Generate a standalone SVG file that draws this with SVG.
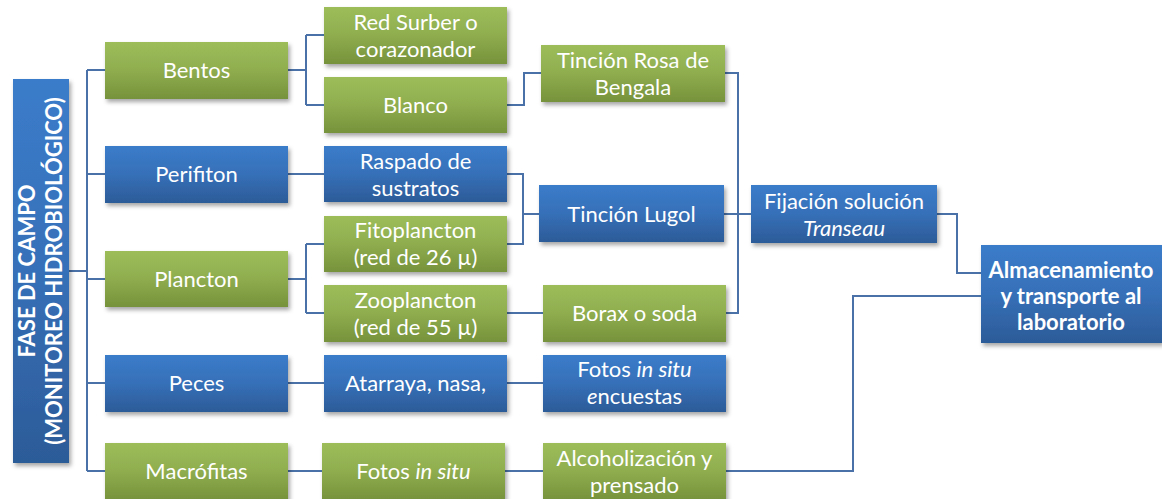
<svg xmlns="http://www.w3.org/2000/svg" width="1162" height="499" viewBox="0 0 1162 499">
<style>
text{font-family:"Lato","Liberation Sans",sans-serif;font-size:22px;fill:#fff;text-anchor:middle}
.b{font-weight:bold}
.i{font-style:italic}
.g{fill:url(#gg);filter:url(#sh)}
.u{fill:url(#bg);filter:url(#sh)}
.c{fill:none;stroke:#4a72a8;stroke-width:2}
</style>
<defs>
<linearGradient id="gg" x1="0" y1="0" x2="0" y2="1"><stop offset="0" stop-color="#9dbd5a"/><stop offset="0.5" stop-color="#8fad4e"/><stop offset="1" stop-color="#76923b"/></linearGradient>
<linearGradient id="bg" x1="0" y1="0" x2="0" y2="1"><stop offset="0" stop-color="#3b7cca"/><stop offset="0.5" stop-color="#3670b8"/><stop offset="1" stop-color="#2c5b98"/></linearGradient>
<filter id="sh" x="-10%" y="-10%" width="125%" height="140%"><feDropShadow dx="2" dy="3" stdDeviation="2" flood-color="#000" flood-opacity="0.35"/></filter>
</defs>
<g id="connectors">
<path class="c" d="M69 271H87M87 70V471M87 70H105M87 174H105M87 279H105M87 383H105M87 471H105"/>
<path class="c" d="M288 70H306M306 35V105M306 35H324M306 105H324"/>
<path class="c" d="M288 174H324"/>
<path class="c" d="M288 279H306M306 244V313M306 244H324M306 313H324"/>
<path class="c" d="M288 383H324"/>
<path class="c" d="M288 471H322"/>
<path class="c" d="M507 105H524V73H541"/>
<path class="c" d="M507 174H523V244H507M523 214H539"/>
<path class="c" d="M507 313H543"/>
<path class="c" d="M507 383H543"/>
<path class="c" d="M505 471H543"/>
<path class="c" d="M725 73H738V313H726M724 214H751"/>
<path class="c" d="M937 214H957V273H981"/>
<path class="c" d="M726 471H853V296H981"/>
</g>
<g id="fase"><rect class="u" x="13" y="79" width="56" height="384"/>
<text class="b" transform="translate(41 271) rotate(-90)"><tspan x="0" y="-6">FASE DE CAMPO</tspan><tspan x="0" y="21">(MONITOREO HIDROBIOLÓGICO)</tspan></text></g>
<g id="bentos"><rect class="g" x="105" y="42" width="183" height="57"/><text x="196.5" y="78">Bentos</text></g>
<g id="perifiton"><rect class="u" x="105" y="146" width="183" height="57"/><text x="196.5" y="182">Perifiton</text></g>
<g id="plancton"><rect class="g" x="105" y="251" width="183" height="56"/><text x="196.5" y="287">Plancton</text></g>
<g id="peces"><rect class="u" x="105" y="355" width="183" height="57"/><text x="196.5" y="391">Peces</text></g>
<g id="macrofitas"><rect class="g" x="105" y="443" width="183" height="57"/><text x="196.5" y="479">Macrófitas</text></g>
<g id="surber"><rect class="g" x="324" y="7" width="183" height="57"/><text x="415.5" y="30">Red Surber o</text><text x="415.5" y="57">corazonador</text></g>
<g id="blanco"><rect class="g" x="324" y="77" width="183" height="56"/><text x="415.5" y="113">Blanco</text></g>
<g id="raspado"><rect class="u" x="324" y="146" width="183" height="56"/><text x="415.5" y="169">Raspado de</text><text x="415.5" y="196">sustratos</text></g>
<g id="fito"><rect class="g" x="324" y="216" width="183" height="56"/><text x="415.5" y="238">Fitoplancton</text><text x="415.5" y="265">(red de 26 µ)</text></g>
<g id="zoo"><rect class="g" x="324" y="285" width="183" height="57"/><text x="415.5" y="308">Zooplancton</text><text x="415.5" y="335">(red de 55 µ)</text></g>
<g id="atarraya"><rect class="u" x="324" y="355" width="183" height="57"/><text x="415.5" y="391">Atarraya, nasa,</text></g>
<g id="fotos1"><rect class="g" x="322" y="443" width="183" height="57"/><text x="413.5" y="479">Fotos <tspan class="i">in situ</tspan></text></g>
<g id="rosa"><rect class="g" x="541" y="45" width="184" height="57"/><text x="633" y="68">Tinción Rosa de</text><text x="633" y="95">Bengala</text></g>
<g id="lugol"><rect class="u" x="539" y="185" width="185" height="57"/><text x="631.5" y="222">Tinción Lugol</text></g>
<g id="borax"><rect class="g" x="543" y="285" width="183" height="57"/><text x="634.5" y="321">Borax o soda</text></g>
<g id="fotos2"><rect class="u" x="543" y="355" width="183" height="57"/><text x="634.5" y="377">Fotos <tspan class="i">in situ</tspan></text><text x="634.5" y="404"><tspan class="i">e</tspan>ncuestas</text></g>
<g id="alcohol"><rect class="g" x="543" y="443" width="183" height="57"/><text x="634.5" y="466">Alcoholización y</text><text x="634.5" y="493">prensado</text></g>
<g id="fijacion"><rect class="u" x="751" y="185" width="186" height="58"/><text x="844" y="209">Fijación solución</text><text class="i" x="844" y="236">Transeau</text></g>
<g id="almacen"><rect class="u" x="981" y="245" width="181" height="98"/><text class="b" x="1071" y="278">Almacenamiento</text><text class="b" x="1071" y="304">y transporte al</text><text class="b" x="1071" y="330">laboratorio</text></g>
</svg>
